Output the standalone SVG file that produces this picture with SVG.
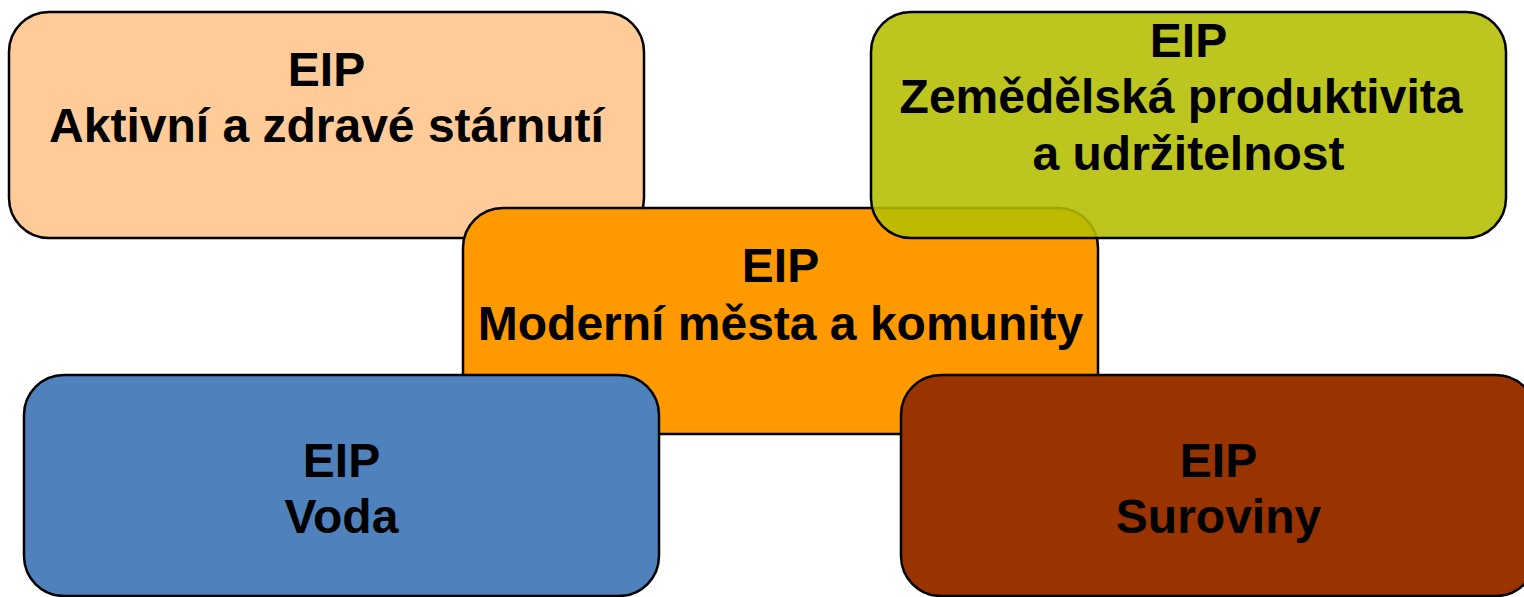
<svg xmlns="http://www.w3.org/2000/svg" width="1524" height="597" viewBox="0 0 1524 597">
<style>
.box{stroke:#000;stroke-width:2.5}
.t{font-family:"Liberation Sans",Arial,sans-serif;font-weight:bold;font-size:48px;fill:#000;text-anchor:middle}
</style>
<rect width="1524" height="597" fill="#fff"/>
<g id="aging">
<rect class="box" x="9" y="12" width="635" height="226" rx="40" fill="#FFCC99"/>
<text class="t" x="326.5" y="86">EIP</text>
<text class="t" x="326.5" y="142">Aktivní a zdravé stárnutí</text>
</g>
<g id="cities">
<rect class="box" x="463" y="208" width="635" height="226" rx="40" fill="#FF9900"/>
<text class="t" x="780.5" y="282">EIP</text>
<text class="t" x="780.5" y="340">Moderní města a komunity</text>
</g>
<g id="agri">
<rect class="box" x="871" y="12" width="635" height="226" rx="40" fill="#B4BE00" fill-opacity="0.88"/>
<text class="t" x="1188.5" y="57">EIP</text>
<text class="t" x="1181" y="113">Zemědělská produktivita</text>
<text class="t" x="1188.5" y="170">a udržitelnost</text>
</g>
<g id="water">
<rect class="box" x="24" y="375" width="635" height="221" rx="40" fill="#4F81BD"/>
<text class="t" x="341.5" y="477">EIP</text>
<text class="t" x="341.5" y="533">Voda</text>
</g>
<g id="materials">
<rect class="box" x="901" y="375" width="635" height="221" rx="40" fill="#993300"/>
<text class="t" x="1218.5" y="477">EIP</text>
<text class="t" x="1218.5" y="533">Suroviny</text>
</g>
<g id="connectors"/>
</svg>
